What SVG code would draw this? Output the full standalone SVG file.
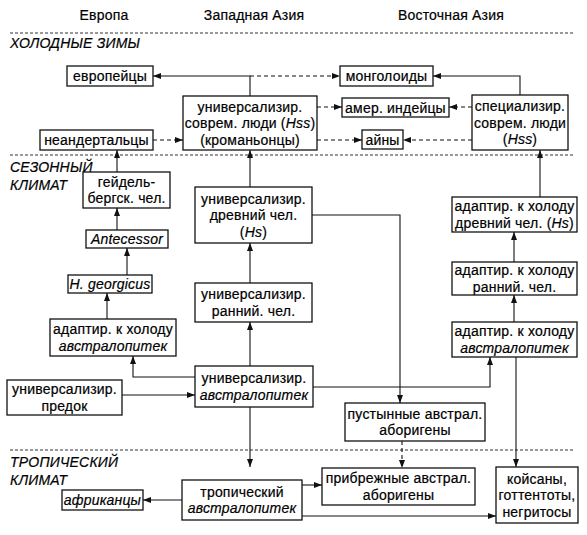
<svg xmlns="http://www.w3.org/2000/svg" width="587" height="535" viewBox="0 0 587 535">
<style>
text{font-family:"Liberation Sans","Noto Sans",Arial,sans-serif;font-size:14px;letter-spacing:0.2px;fill:#000;stroke:#000;stroke-width:0.2;text-anchor:middle}
.it{font-style:italic}
.lbl{text-anchor:start;font-style:italic}
rect{fill:#fff;stroke:#111;stroke-width:1.3}
.sep{stroke:#333;stroke-width:1;stroke-dasharray:3 2;fill:none}
.c{stroke:#111;stroke-width:1.1;fill:none;marker-end:url(#ah)}
.d{stroke-dasharray:4 3}
</style>
<defs>
<marker id="ah" markerUnits="userSpaceOnUse" markerWidth="9" markerHeight="7" refX="8" refY="3" orient="auto">
<path d="M0,0 L8,3 L0,6 z" fill="#111"/>
</marker>
</defs>
<rect x="0" y="0" width="587" height="535" style="fill:#fff;stroke:none"/>
<g id="headers">
<text x="104" y="20">Европа</text>
<text x="254" y="20">Западная Азия</text>
<text x="451" y="20">Восточная Азия</text>
</g>
<g id="zones">
<line class="sep" x1="10" y1="33" x2="575" y2="33"/>
<line class="sep" x1="10" y1="155" x2="575" y2="155"/>
<line class="sep" x1="10" y1="450" x2="575" y2="450"/>
<text class="lbl" x="10" y="48">ХОЛОДНЫЕ ЗИМЫ</text>
<text class="lbl" x="10" y="172">СЕЗОННЫЙ</text>
<text class="lbl" x="10" y="190">КЛИМАТ</text>
<text class="lbl" x="10" y="467">ТРОПИЧЕСКИЙ</text>
<text class="lbl" x="10" y="485">КЛИМАТ</text>
</g>
<g id="connectors">
<path class="c" d="M250,96 V76 H153"/>
<path class="c d" d="M250,76 H340"/>
<path class="c d" d="M153,140 H183"/>
<path class="c d" d="M317,107 H342"/>
<path class="c d" d="M317,140 H362"/>
<path class="c" d="M520,95 V76 H433"/>
<path class="c d" d="M472,107 H449"/>
<path class="c d" d="M472,140 H403"/>
<path class="c" d="M117,172 V150"/>
<path class="c" d="M117,230 V208"/>
<path class="c" d="M127,275 V248"/>
<path class="c" d="M107,319 V293"/>
<path class="c" d="M195,377 H133 V356"/>
<path class="c" d="M122,395 H195"/>
<path class="c" d="M250,366 V322"/>
<path class="c" d="M250,283 V243"/>
<path class="c" d="M250,187 V150"/>
<path class="c" d="M250,407 V467"/>
<path class="c" d="M312,215 H400 V403"/>
<path class="c" d="M313,387 H490 V357"/>
<path class="c" d="M514,322 V295"/>
<path class="c" d="M514,262 V232"/>
<path class="c" d="M540,197 V150"/>
<path class="c" d="M516,357 V467"/>
<path class="c d" d="M402,441 V468"/>
<path class="c" d="M182,500 H143"/>
<path class="c" d="M302,485 H322"/>
<path class="c" d="M302,516 H496"/>
</g>
<g id="europeans"><rect x="67" y="66" width="86" height="20"/><text x="110" y="81">европейцы</text></g>
<g id="neanderthals"><rect x="40" y="130" width="113" height="20"/><text x="96.5" y="145">неандертальцы</text></g>
<g id="cromagnon"><rect x="183" y="96" width="134" height="54"/><text x="250" y="111.5">универсализир.</text><text x="250" y="128">соврем. люди (<tspan class="it">Hss</tspan>)</text><text x="250" y="144.5">(кроманьонцы)</text></g>
<g id="mongoloids"><rect x="340" y="66" width="93" height="20"/><text x="386.5" y="81">монголоиды</text></g>
<g id="amerindians"><rect x="342" y="98" width="107" height="19"/><text x="395.5" y="112.5">амер. индейцы</text></g>
<g id="ainu"><rect x="362" y="130" width="41" height="19"/><text x="382.5" y="144.5">айны</text></g>
<g id="specialized"><rect x="472" y="95" width="96" height="55"/><text x="520" y="111">специализир.</text><text x="520" y="127.5">соврем. люди</text><text x="520" y="144">(<tspan class="it">Hss</tspan>)</text></g>
<g id="heidelberg"><rect x="83" y="172" width="87" height="36"/><text x="126.5" y="186.75">гейдель-</text><text x="126.5" y="203.25">бергск. чел.</text></g>
<g id="antecessor"><rect x="86" y="230" width="82" height="18"/><text class="it" x="127" y="244">Antecessor</text></g>
<g id="georgicus"><rect x="68" y="275" width="84" height="18"/><text class="it" x="110" y="289">H. georgicus</text></g>
<g id="cold-austral-west"><rect x="50" y="319" width="126" height="37"/><text x="113" y="334.25">адаптир. к холоду</text><text class="it" x="113" y="350.75">австралопитек</text></g>
<g id="univ-ancient"><rect x="195" y="187" width="117" height="56"/><text x="253.5" y="203.5">универсализир.</text><text x="253.5" y="220">древний чел.</text><text x="253.5" y="236.5">(<tspan class="it">Hs</tspan>)</text></g>
<g id="univ-early"><rect x="195" y="283" width="117" height="39"/><text x="253.5" y="299.25">универсализир.</text><text x="253.5" y="315.75">ранний. чел.</text></g>
<g id="univ-austral"><rect x="195" y="366" width="118" height="41"/><text x="254" y="383.25">универсализир.</text><text class="it" x="254" y="399.75">австралопитек</text></g>
<g id="ancestor"><rect x="7" y="380" width="115" height="35"/><text x="64.5" y="394.25">универсализир.</text><text x="64.5" y="410.75">предок</text></g>
<g id="desert-aborigines"><rect x="345" y="403" width="140" height="38"/><text x="415" y="418.75">пустынные австрал.</text><text x="415" y="435.25">аборигены</text></g>
<g id="cold-ancient-east"><rect x="452" y="197" width="125" height="35"/><text x="514.5" y="211.25">адаптир. к холоду</text><text x="514.5" y="227.75">древний чел. (<tspan class="it">Hs</tspan>)</text></g>
<g id="cold-early-east"><rect x="452" y="262" width="125" height="33"/><text x="514.5" y="275.25">адаптир. к холоду</text><text x="514.5" y="291.75">ранний. чел.</text></g>
<g id="cold-austral-east"><rect x="452" y="322" width="125" height="35"/><text x="514.5" y="336.25">адаптир. к холоду</text><text class="it" x="514.5" y="352.75">австралопитек</text></g>
<g id="africans"><rect x="62" y="490" width="81" height="20"/><text class="it" x="102.5" y="505">африканцы</text></g>
<g id="tropical-austral"><rect x="182" y="480" width="120" height="40"/><text x="242" y="496.75">тропический</text><text class="it" x="242" y="513.25">австралопитек</text></g>
<g id="coastal-aborigines"><rect x="322" y="468" width="153" height="37"/><text x="398.5" y="483.25">прибрежные австрал.</text><text x="398.5" y="499.75">аборигены</text></g>
<g id="khoisan"><rect x="496" y="467" width="82" height="56"/><text x="537" y="483.5">койсаны,</text><text x="537" y="500">готтентоты,</text><text x="537" y="516.5">негритосы</text></g>
</svg>
